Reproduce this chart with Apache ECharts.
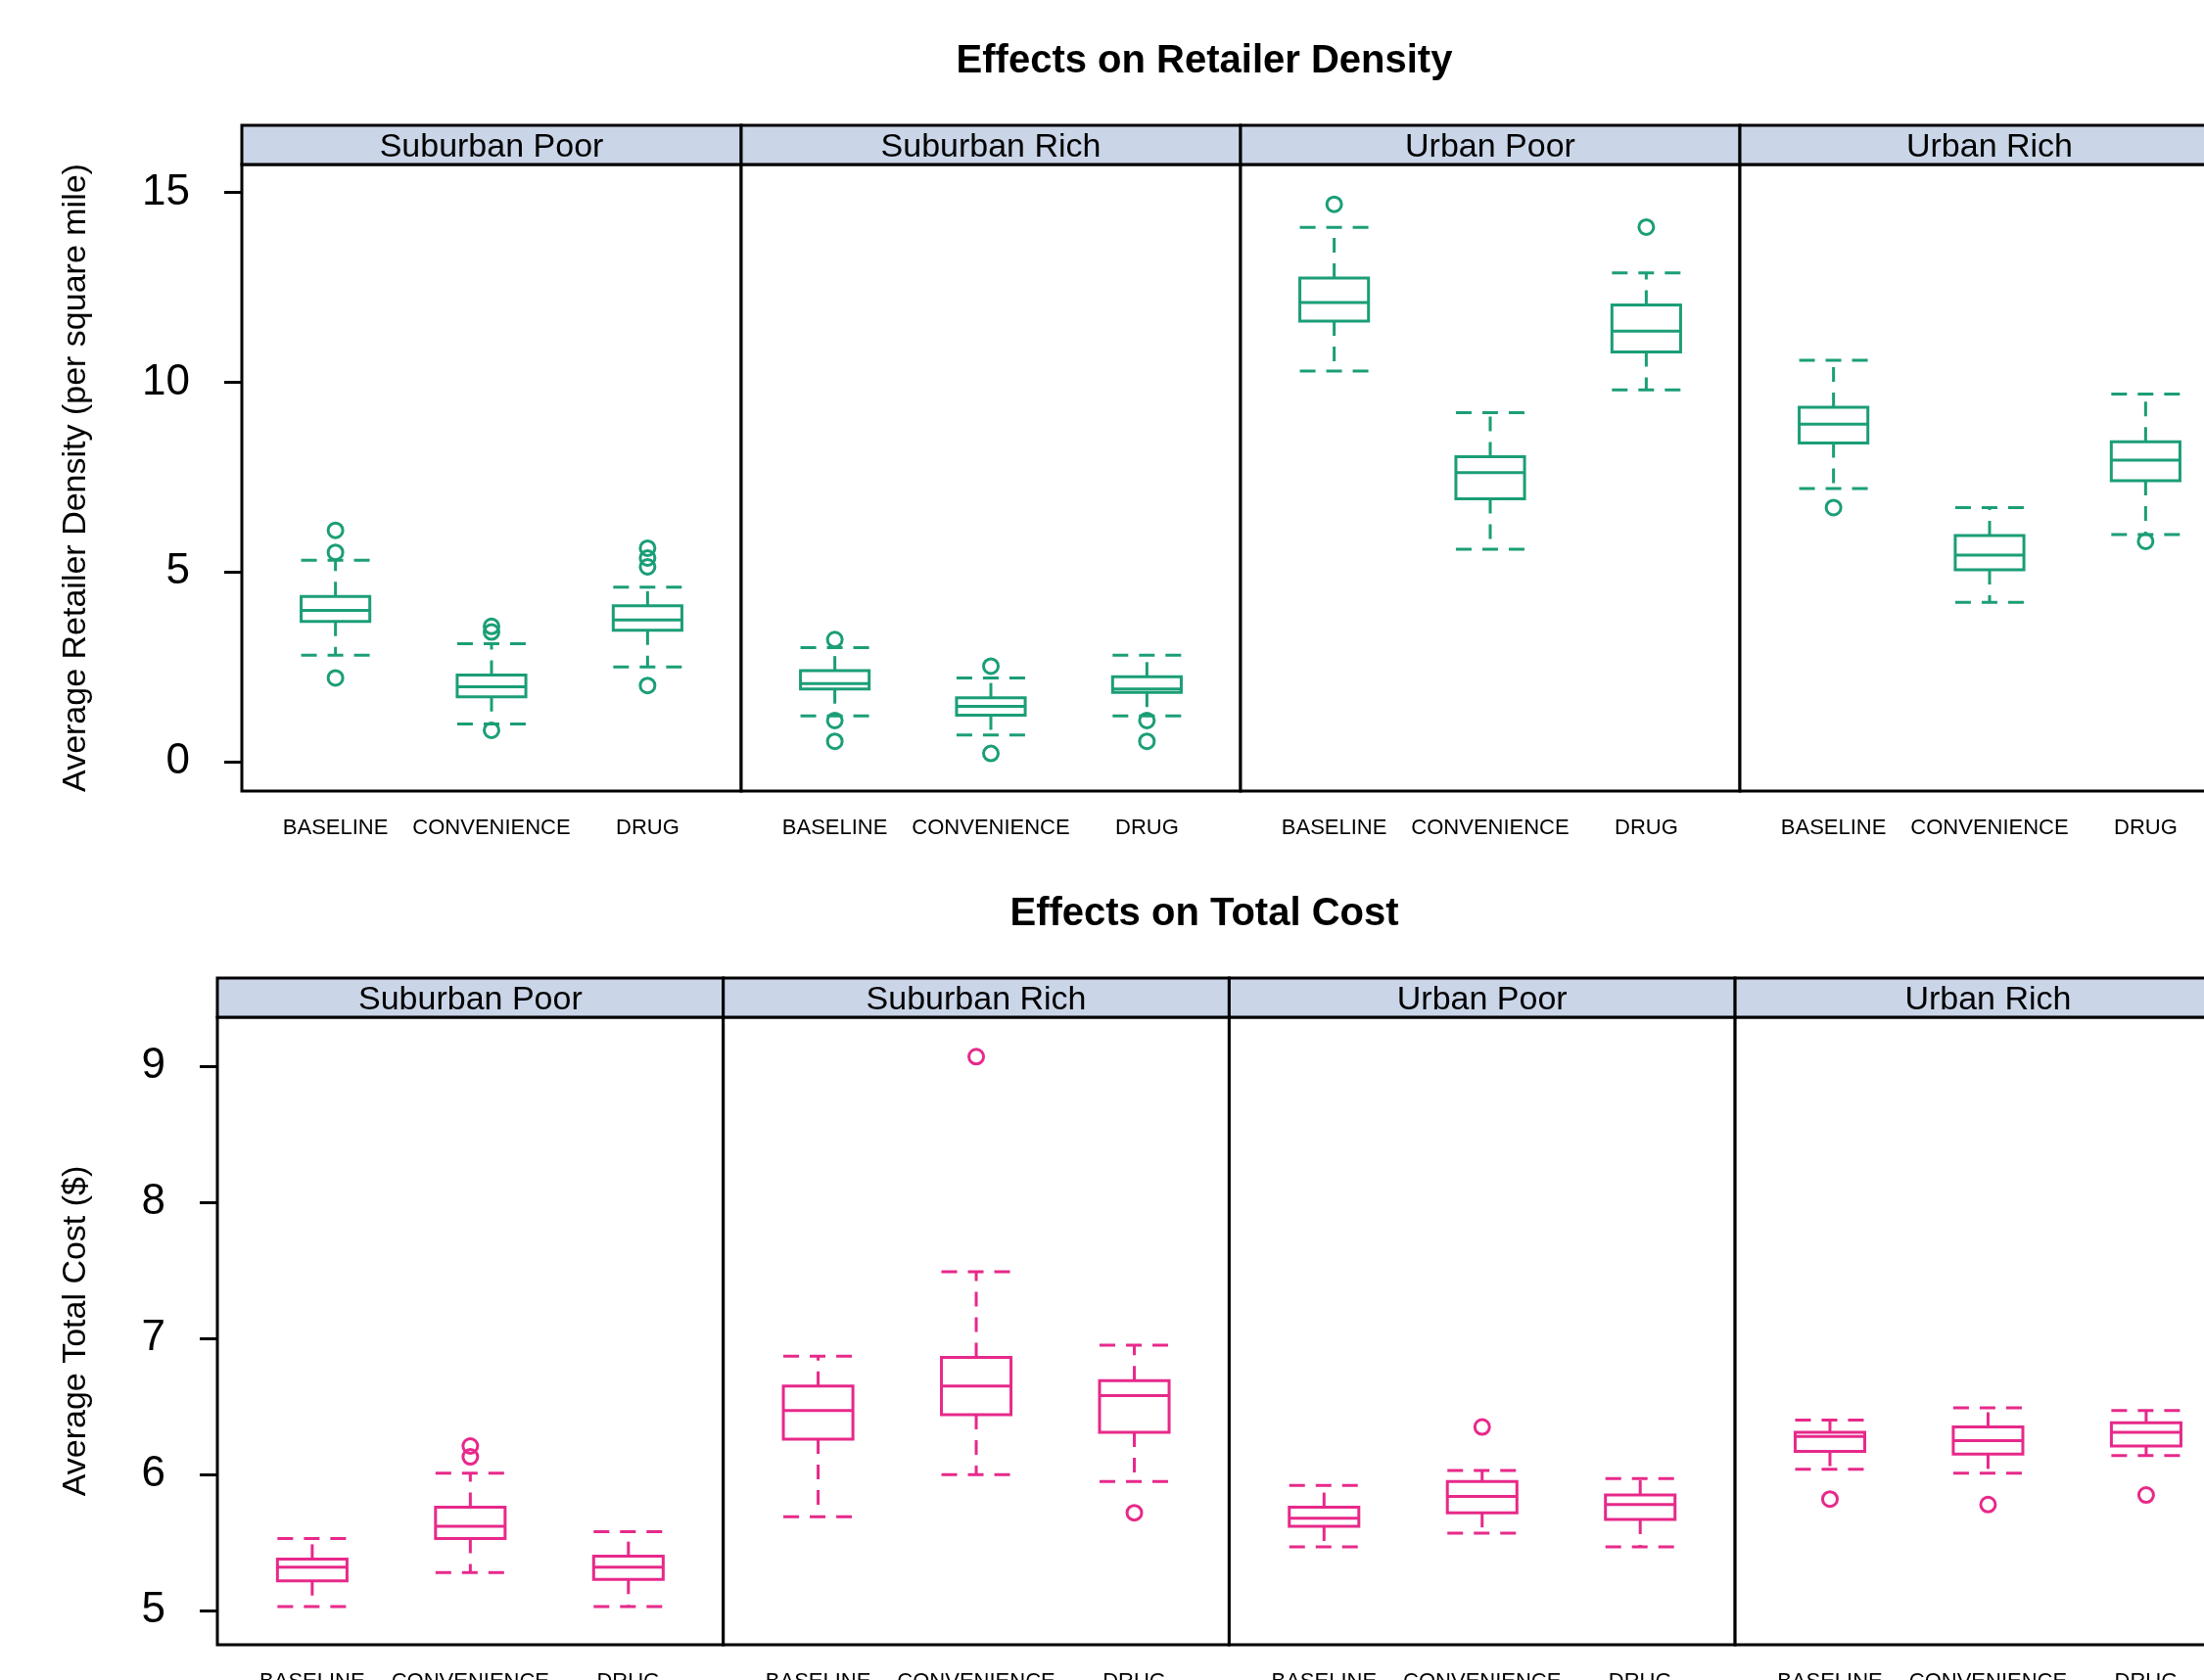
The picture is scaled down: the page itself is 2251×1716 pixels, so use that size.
<!DOCTYPE html>
<html>
<head>
<meta charset="utf-8">
<script src="https://cdn.jsdelivr.net/npm/echarts@6/dist/echarts.min.js"></script>
<style>
  html, body { margin: 0; padding: 0; background: #fff; }
  #chart { width: 2251px; height: 1716px; }
</style>
</head>
<body>
<div id="chart"></div>
<script>
const categories = ['BASELINE', 'CONVENIENCE', 'DRUG'];
const regions = ['Suburban Poor', 'Suburban Rich', 'Urban Poor', 'Urban Rich'];

// box stats per category: [lower whisker, Q1, median, Q3, upper whisker]
const densitySuburbanPoor = [[2.81, 3.70, 3.99, 4.36, 5.31], [1.00, 1.71, 1.98, 2.29, 3.11], [2.50, 3.47, 3.74, 4.11, 4.60]];
const densitySuburbanRich = [[1.21, 1.92, 2.06, 2.40, 3.01], [0.71, 1.23, 1.46, 1.69, 2.21], [1.21, 1.83, 1.92, 2.24, 2.81]];
const densityUrbanPoor = [[10.30, 11.61, 12.10, 12.75, 14.08], [5.60, 6.93, 7.62, 8.04, 9.20], [9.80, 10.80, 11.35, 12.04, 12.88]];
const densityUrbanRich = [[7.20, 8.40, 8.90, 9.34, 10.58], [4.20, 5.06, 5.45, 5.96, 6.70], [5.99, 7.41, 7.95, 8.43, 9.69]];

// outliers: [category (1..3), value]
const densityOutSuburbanPoor = [[1, 6.10], [1, 5.52], [1, 2.21], [2, 3.57], [2, 3.42], [2, 0.83], [3, 5.63], [3, 5.37], [3, 5.14], [3, 2.01]];
const densityOutSuburbanRich = [[1, 3.22], [1, 1.09], [1, 0.54], [2, 2.52], [2, 0.22], [3, 1.09], [3, 0.54]];
const densityOutUrbanPoor = [[1, 14.69], [3, 14.09]];
const densityOutUrbanRich = [[1, 6.70], [3, 5.81]];

const costSuburbanPoor = [[5.03, 5.22, 5.32, 5.38, 5.53], [5.28, 5.53, 5.62, 5.76, 6.01], [5.03, 5.23, 5.32, 5.40, 5.58]];
const costSuburbanRich = [[5.69, 6.26, 6.47, 6.65, 6.87], [6.00, 6.44, 6.65, 6.86, 7.49], [5.95, 6.31, 6.58, 6.69, 6.95]];
const costUrbanPoor = [[5.47, 5.62, 5.68, 5.76, 5.92], [5.57, 5.72, 5.84, 5.95, 6.03], [5.47, 5.67, 5.78, 5.85, 5.97]];
const costUrbanRich = [[6.04, 6.17, 6.28, 6.31, 6.40], [6.01, 6.15, 6.25, 6.35, 6.49], [6.14, 6.21, 6.31, 6.38, 6.47]];

const costOutSuburbanPoor = [[2, 6.21], [2, 6.13]];
const costOutSuburbanRich = [[2, 9.07], [3, 5.72]];
const costOutUrbanPoor = [[2, 6.35]];
const costOutUrbanRich = [[1, 5.82], [2, 5.78], [3, 5.85]];

const densityTicks = [0, 5, 10, 15];
const costTicks = [5, 6, 7, 8, 9];

const FONT = '"Liberation Sans", Arial, Helvetica, sans-serif';
const STRIP_BG = '#cad5e8';

const rows = [
    {
        title: 'Effects on Retailer Density', titleY: 63,
        yName: 'Average Retailer Density (per square mile)', nameGap: 152,
        top: 168, height: 640, stripH: 40, left: 247, width: 510,
        min: -0.77, max: 15.74, ticks: densityTicks, color: '#1b9e77',
        boxes: [densitySuburbanPoor, densitySuburbanRich, densityUrbanPoor, densityUrbanRich],
        outliers: [densityOutSuburbanPoor, densityOutSuburbanRich, densityOutUrbanPoor, densityOutUrbanRich]
    },
    {
        title: 'Effects on Total Cost', titleY: 934,
        yName: 'Average Total Cost ($)', nameGap: 127,
        top: 1039, height: 641, stripH: 40, left: 222, width: 516.7,
        min: 4.75, max: 9.36, ticks: costTicks, color: '#e7298a',
        boxes: [costSuburbanPoor, costSuburbanRich, costUrbanPoor, costUrbanRich],
        outliers: [costOutSuburbanPoor, costOutSuburbanRich, costOutUrbanPoor, costOutUrbanRich]
    }
];

const BOX_W = 0.44;

function makeRender(color) {
    return function (params, api) {
        const x = api.value(0);
        const lo = api.coord([x, api.value(1)]);
        const q1 = api.coord([x, api.value(2)]);
        const md = api.coord([x, api.value(3)]);
        const q3 = api.coord([x, api.value(4)]);
        const hi = api.coord([x, api.value(5)]);
        const half = api.size([BOX_W, 0])[0] / 2;
        const cx = lo[0];
        const solid = { stroke: color, lineWidth: 3, fill: null };
        const dashed = { stroke: color, lineWidth: 3, lineDash: [15, 11] };
        const capDash = { stroke: color, lineWidth: 3, lineDash: [16, 11] };
        return {
            type: 'group',
            children: [
                { type: 'rect', shape: { x: cx - half, y: q3[1], width: half * 2, height: q1[1] - q3[1] }, style: solid },
                { type: 'line', shape: { x1: cx - half, y1: md[1], x2: cx + half, y2: md[1] }, style: solid },
                { type: 'line', shape: { x1: cx, y1: q3[1], x2: cx, y2: hi[1] }, style: dashed },
                { type: 'line', shape: { x1: cx, y1: q1[1], x2: cx, y2: lo[1] }, style: dashed },
                { type: 'line', shape: { x1: cx - half, y1: hi[1], x2: cx + half, y2: hi[1] }, style: capDash },
                { type: 'line', shape: { x1: cx - half, y1: lo[1], x2: cx + half, y2: lo[1] }, style: capDash }
            ]
        };
    };
}

const grid = [], xAxis = [], yAxis = [], series = [], graphic = [];

rows.forEach(function (row) {
    graphic.push({
        type: 'text', x: 1230, y: row.titleY, z: 100,
        style: { text: row.title, fontSize: 40, fontWeight: 'bold', fontFamily: FONT, fill: '#000', align: 'center', verticalAlign: 'middle' }
    });
    regions.forEach(function (region, p) {
        const idx = grid.length;
        const left = row.left + p * row.width;
        grid.push({
            left: left, top: row.top, width: row.width, height: row.height,
            show: true, borderColor: '#000', borderWidth: 3, backgroundColor: '#fff',
            containLabel: false, outerBoundsMode: 'none'
        });
        // strip
        graphic.push({
            type: 'rect', z: 50,
            shape: { x: left, y: row.top - row.stripH, width: row.width, height: row.stripH },
            style: { fill: STRIP_BG, stroke: '#000', lineWidth: 3 }
        });
        graphic.push({
            type: 'text', z: 51, x: left + row.width / 2, y: row.top - row.stripH / 2 + 3,
            style: { text: region, fontSize: 34, fontFamily: FONT, fill: '#000', align: 'center', verticalAlign: 'middle' }
        });
        xAxis.push({
            type: 'value', gridIndex: idx, min: 0.4, max: 3.6,
            axisLine: { show: false }, axisTick: { show: false }, splitLine: { show: false },
            axisLabel: {
                customValues: [1, 2, 3], margin: 27, fontSize: 22, color: '#000', fontFamily: FONT,
                formatter: function (v) { return categories[Math.round(v) - 1]; }
            }
        });
        const first = p === 0;
        yAxis.push({
            type: 'value', gridIndex: idx, min: row.min, max: row.max,
            show: first,
            name: first ? row.yName : '', nameLocation: 'middle', nameGap: row.nameGap,
            nameTextStyle: { fontSize: 34, fontFamily: FONT, color: '#000' },
            axisLine: { show: false },
            axisTick: { show: true, customValues: row.ticks, length: 18, lineStyle: { color: '#000', width: 3 } },
            axisLabel: { customValues: row.ticks, margin: 53, fontSize: 44, color: '#000', fontFamily: FONT },
            splitLine: { show: false }
        });
        series.push({
            type: 'custom', xAxisIndex: idx, yAxisIndex: idx,
            renderItem: makeRender(row.color),
            encode: { x: 0, y: [1, 2, 3, 4, 5] },
            data: row.boxes[p].map(function (b, i) { return [i + 1].concat(b); }),
            z: 10
        });
        series.push({
            type: 'scatter', xAxisIndex: idx, yAxisIndex: idx,
            symbol: 'circle', symbolSize: 15,
            itemStyle: { color: 'rgba(0,0,0,0)', borderColor: row.color, borderWidth: 3, opacity: 1 },
            data: row.outliers[p],
            z: 11
        });
    });
});

const chart = echarts.init(document.getElementById('chart'), null, { renderer: 'canvas' });
chart.setOption({
    animation: false,
    backgroundColor: '#fff',
    grid: grid,
    xAxis: xAxis,
    yAxis: yAxis,
    series: series,
    graphic: graphic
});
</script>
</body>
</html>
